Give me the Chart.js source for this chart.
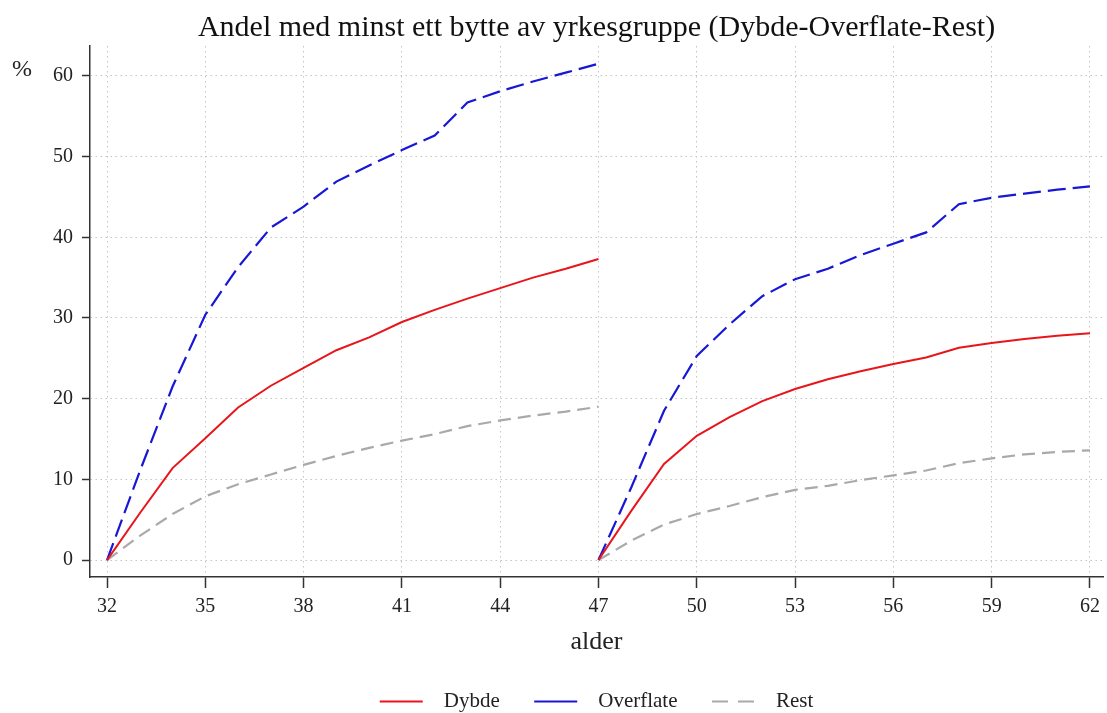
<!DOCTYPE html>
<html>
<head>
<meta charset="utf-8">
<script src="https://cdn.jsdelivr.net/npm/chart.js@4/dist/chart.umd.min.js"></script>
<style>
  html, body { margin: 0; padding: 0; background: #fff; }
  #wrap { width: 1107px; height: 713px; }
</style>
</head>
<body>
<div id="wrap"><canvas id="c" width="1107" height="713"></canvas></div>
<script>
// ---- Data ----
const agesFirst  = [32,33,34,35,36,37,38,39,40,41,42,43,44,45,46,47];
const agesSecond = [47,48,49,50,51,52,53,54,55,56,57,58,59,60,61,62];

const dybdeFirst     = [0, 5.8, 11.4, 15.1, 18.9, 21.6, 23.8, 26.0, 27.6, 29.5, 31.0, 32.4, 33.7, 35.0, 36.1, 37.3];
const overflateFirst = [0, 11.0, 21.5, 30.4, 36.3, 41.2, 43.8, 46.9, 48.9, 50.8, 52.6, 56.7, 58.1, 59.3, 60.4, 61.5];
const restFirst      = [0, 3.0, 5.7, 7.9, 9.4, 10.6, 11.8, 12.9, 13.9, 14.8, 15.6, 16.6, 17.3, 17.9, 18.4, 19.0];

const dybdeSecond     = [0, 6.1, 11.9, 15.4, 17.7, 19.7, 21.2, 22.4, 23.4, 24.3, 25.1, 26.3, 26.9, 27.4, 27.8, 28.1];
const overflateSecond = [0, 9.0, 18.5, 25.3, 29.2, 32.7, 34.8, 36.1, 37.8, 39.2, 40.6, 44.1, 44.9, 45.4, 45.9, 46.3];
const restSecond      = [0, 2.4, 4.4, 5.7, 6.7, 7.8, 8.7, 9.2, 9.9, 10.5, 11.1, 12.0, 12.6, 13.1, 13.4, 13.6];

const xTickValues = [32,35,38,41,44,47,50,53,56,59,62];
const yTickValues = [0,10,20,30,40,50,60];

const seriesNames = ['Dybde', 'Overflate', 'Rest'];
const titleText = 'Andel med minst ett bytte av yrkesgruppe (Dybde-Overflate-Rest)';
const xTitle = 'alder';
const yUnit = '%';

// build points: first segment, a gap, then second segment
function buildPoints(first, second) {
  const pts = agesFirst.map((a, i) => ({x: a, y: first[i]}));
  pts.push({x: agesFirst[agesFirst.length - 1], y: null});
  agesSecond.forEach((a, i) => pts.push({x: a, y: second[i]}));
  return pts;
}

const SERIF = '"Liberation Serif", "Times New Roman", serif';

const unitLabel = {
  id: 'unitLabel',
  afterDraw(chart) {
    const {ctx} = chart;
    const ys = chart.scales.y;
    ctx.save();
    ctx.font = '24px ' + SERIF;
    ctx.fillStyle = '#222';
    ctx.textAlign = 'center';
    ctx.textBaseline = 'middle';
    ctx.fillText(yUnit, 22, ys.getPixelForValue(60) - 6);
    ctx.restore();
  }
};

new Chart(document.getElementById('c'), {
  type: 'line',
  data: {
    datasets: [
      {
        label: seriesNames[0],
        data: buildPoints(dybdeFirst, dybdeSecond),
        borderColor: '#e8151b',
        backgroundColor: '#e8151b',
        borderWidth: 2,
        pointRadius: 0,
        tension: 0,
        spanGaps: false
      },
      {
        label: seriesNames[1],
        data: buildPoints(overflateFirst, overflateSecond),
        borderColor: '#1717d6',
        backgroundColor: '#1717d6',
        borderWidth: 2.2,
        borderDash: [18, 7],
        pointRadius: 0,
        tension: 0,
        spanGaps: false
      },
      {
        label: seriesNames[2],
        data: buildPoints(restFirst, restSecond),
        borderColor: '#a9a9a9',
        backgroundColor: '#a9a9a9',
        borderWidth: 2.2,
        borderDash: [13, 7],
        pointRadius: 0,
        tension: 0,
        spanGaps: false
      }
    ]
  },
  options: {
    responsive: false,
    animation: false,
    layout: { padding: { top: 10, right: 2, left: 0, bottom: -9 } },
    plugins: {
      title: {
        display: true,
        text: titleText,
        fullSize: false,
        color: '#111',
        font: { family: SERIF, size: 30, weight: 'normal' },
        padding: { top: 0, bottom: 0 }
      },
      legend: {
        position: 'bottom',
        fullSize: false,
        labels: {
          font: { family: SERIF, size: 21 },
          color: '#222',
          usePointStyle: true,
          pointStyleWidth: 43,
          padding: 3,
          generateLabels(chart) {
            const items = Chart.defaults.plugins.legend.labels.generateLabels(chart);
            const last = items.length - 1;
            items.forEach((it, i) => {
              it.pointStyle = 'line';
              it.lineWidth = 2.2;
              it.text = '\u2002' + it.text + (i < last ? '      ' : '');
              if (i === 1) it.lineDash = [];
              if (i === 2) it.lineDash = [16, 10];
            });
            return items;
          }
        }
      },
      tooltip: { enabled: false }
    },
    scales: {
      x: {
        type: 'linear',
        min: 31.48,
        max: 62.4,
        afterBuildTicks(scale) { scale.ticks = xTickValues.map(v => ({value: v})); },
        afterFit(scale) { scale.height = 111; },
        ticks: {
          font: { family: SERIF, size: 20 },
          color: '#222',
          padding: 7,
          maxRotation: 0,
          autoSkip: false
        },
        grid: {
          color: '#c4c4c4',
          lineWidth: 1,
          drawTicks: true,
          tickLength: 11,
          tickColor: '#333',
          tickWidth: 1.5
        },
        border: { display: true, color: '#333', width: 1.5, dash: [1.5, 3.5] },
        title: {
          display: true,
          text: xTitle,
          color: '#222',
          font: { family: SERIF, size: 26 },
          padding: { top: 0, bottom: 30 }
        }
      },
      y: {
        type: 'linear',
        min: -2.1,
        max: 63.7,
        afterBuildTicks(scale) { scale.ticks = yTickValues.map(v => ({value: v})); },
        afterFit(scale) { scale.width = 90; },
        ticks: {
          font: { family: SERIF, size: 20 },
          color: '#222',
          padding: 9
        },
        grid: {
          color: '#c4c4c4',
          lineWidth: 1,
          drawTicks: true,
          tickLength: 8,
          tickColor: '#333',
          tickWidth: 1.5
        },
        border: { display: true, color: '#333', width: 1.5, dash: [1.5, 3.5] }
      }
    }
  },
  plugins: [unitLabel]
});
</script>
</body>
</html>
